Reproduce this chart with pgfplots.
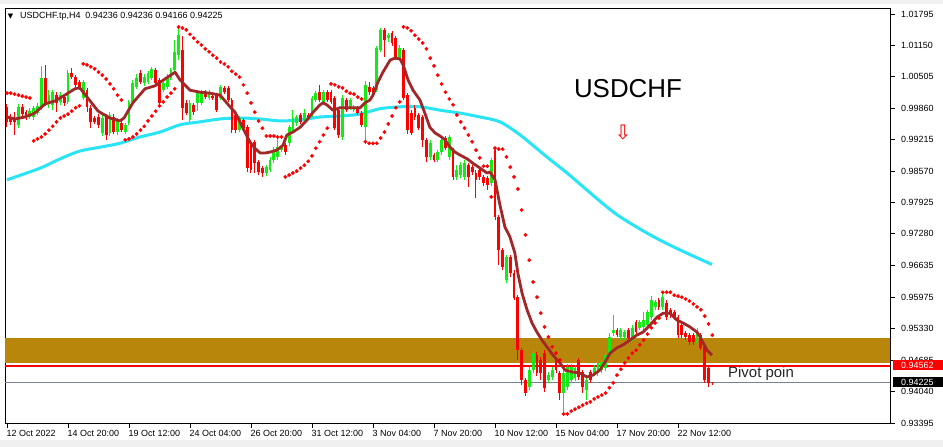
\documentclass[border=0pt]{standalone}
\usepackage{fontspec}
\setmainfont{Liberation Sans}
\newfontfamily\dejavu{DejaVu Sans}
\usepackage{pgfplots}
\usepackage{pgfplotstable}
\pgfplotsset{compat=1.18}
\definecolor{cgreen}{RGB}{20,235,20}
\definecolor{cred}{RGB}{255,0,0}
\definecolor{cbrown}{RGB}{160,40,40}
\definecolor{ccyan}{RGB}{40,228,245}
\definecolor{cgold}{RGB}{184,134,11}
\definecolor{cgrey}{RGB}{120,130,145}
\definecolor{cstrip}{RGB}{240,240,240}

% up candles: bar index, open, high, low, close
\pgfplotstableread{
x o h l c
3 .9952 .9995 .9945 .9989
6 .9968 .9987 .9964 .9980
7 .9968 .9991 .9962 .9987
8 .9976 .9997 .9972 .9991
9 .9987 1.0073 .9982 1.0048
11 .9997 1.0023 .9987 1.0013
12 .9993 1.0023 .9982 1.0019
14 .9999 1.0019 .9993 1.0013
16 .9999 1.0065 .9995 1.0058
20 1.0007 1.0044 1.0003 1.0040
25 .9935 .9972 .9929 .9966
27 .9935 .9978 .9929 .9972
29 .9937 .9966 .9931 .9962
31 .9937 .9956 .9933 .9952
32 .9956 1.0003 .9952 .9999
33 .9999 1.0044 .9995 1.0038
34 1.0030 1.0056 1.0026 1.0048
36 1.0038 1.0056 1.0032 1.0050
37 1.0040 1.0062 1.0036 1.0058
38 1.0048 1.0071 1.0044 1.0067
41 1.0023 1.0044 1.0019 1.0038
42 1.0030 1.0056 1.0026 1.0050
43 1.0048 1.0069 1.0044 1.0065
44 1.0065 1.0126 1.0060 1.0102
45 1.0095 1.0151 1.0085 1.0136
48 .9962 1.0003 .9958 .9997
50 .9997 1.0023 .9980 1.0017
51 .9997 1.0023 .9993 1.0019
53 1.0007 1.0023 1.0003 1.0019
56 1.0007 1.0034 1.0003 1.0030
61 .9941 .9970 .9937 .9966
68 .9853 .9869 .9847 .9865
69 .9859 .9886 .9855 .9880
70 .9880 .9906 .9873 .9896
71 .9886 .9925 .9880 .9906
72 .9900 .9910 .9896 .9906
74 .9914 .9952 .9908 .9947
75 .9941 .9982 .9937 .9966
76 .9956 .9972 .9949 .9968
78 .9962 .9985 .9958 .9976
80 .9972 1.0011 .9968 1.0007
81 1.0003 1.0021 .9999 1.0017
83 .9999 1.0023 .9995 1.0019
88 .9927 1.0013 .9921 1.0007
90 .9987 1.0007 .9982 1.0003
91 .9982 .9993 .9978 .9989
94 .9947 1.0042 .9914 1.0034
97 1.0023 1.0114 1.0019 1.0110
98 1.0106 1.0151 1.0102 1.0147
100 1.0130 1.0141 1.0122 1.0136
103 1.0089 1.0116 1.0085 1.0110
111 .9886 .9921 .9880 .9914
113 .9880 .9900 .9875 .9896
114 .9896 .9927 .9890 .9921
116 .9886 .9931 .9880 .9927
118 .9845 .9869 .9839 .9859
119 .9849 .9875 .9843 .9869
120 .9845 .9880 .9839 .9873
127 .9832 .9884 .9826 .9880
131 .9633 .9685 .9627 .9680
137 .9414 .9455 .9407 .9448
138 .9448 .9489 .9442 .9483
142 .9428 .9444 .9422 .9438
143 .9434 .9455 .9428 .9448
146 .9401 .9448 .9360 .9442
147 .9414 .9461 .9407 .9455
148 .9428 .9461 .9422 .9455
149 .9432 .9459 .9426 .9453
152 .9407 .9432 .9387 .9428
154 .9442 .9459 .9436 .9453
155 .9442 .9469 .9436 .9463
156 .9448 .9469 .9442 .9465
157 .9453 .9483 .9446 .9479
158 .9477 .9524 .9473 .9516
159 .9524 .9561 .9518 .9530
161 .9516 .9535 .9510 .9530
162 .9516 .9530 .9510 .9526
164 .9514 .9541 .9508 .9535
166 .9535 .9551 .9530 .9547
167 .9537 .9567 .9530 .9551
168 .9541 .9572 .9535 .9567
169 .9557 .9600 .9551 .9592
170 .9578 .9592 .9572 .9588
172 .9578 .9604 .9572 .9598
181 .9504 .9535 .9498 .9530
}\uptab

% down candles: bar index, open, high, low, close
\pgfplotstableread{
x o h l c
0 .9989 .9995 .9947 .9958
1 .9968 .9974 .9952 .9958
2 .9966 .9978 .9931 .9958
4 .9989 .9995 .9970 .9974
5 .9978 .9982 .9962 .9966
10 1.0048 1.0075 .9991 .9997
13 1.0013 1.0019 .9978 .9997
15 1.0009 1.0013 .9991 .9997
17 1.0058 1.0069 1.0046 1.0050
18 1.0050 1.0054 1.0030 1.0034
19 1.0040 1.0044 1.0023 1.0030
21 1.0023 1.0028 .9978 .9989
22 .9987 .9993 .9945 .9958
23 .9966 .9970 .9954 .9958
24 .9968 .9974 .9945 .9952
26 .9968 .9974 .9921 .9931
28 .9968 .9974 .9933 .9937
30 .9956 .9960 .9937 .9941
35 1.0058 1.0065 1.0036 1.0040
39 1.0065 1.0069 1.0032 1.0038
40 1.0044 1.0048 .9993 .9997
46 1.0106 1.0134 .9962 .9987
47 .9997 1.0003 .9972 .9976
49 .9993 .9997 .9972 .9978
52 1.0019 1.0023 1.0005 1.0009
54 1.0011 1.0015 1.0003 1.0007
55 1.0013 1.0017 .9978 .9982
57 1.0028 1.0032 1.0015 1.0019
58 1.0028 1.0032 .9999 1.0003
59 1.0003 1.0007 .9935 .9941
60 .9972 .9976 .9935 .9941
62 .9962 .9966 .9941 .9945
63 .9947 .9952 .9855 .9863
64 .9917 .9921 .9853 .9859
65 .9917 .9921 .9853 .9873
66 .9875 .9880 .9849 .9855
67 .9863 .9867 .9845 .9853
73 .9910 .9914 .9890 .9896
77 .9972 .9976 .9954 .9958
79 .9972 .9976 .9962 .9966
82 1.0019 1.0034 .9999 1.0003
84 1.0019 1.0023 .9999 1.0003
85 1.0019 1.0023 .9995 .9999
86 1.0007 1.0011 .9941 .9945
87 .9982 .9987 .9925 .9931
89 1.0003 1.0007 .9978 .9982
92 .9987 .9991 .9972 .9976
93 .9976 .9980 .9947 .9952
95 1.0030 1.0040 1.0013 1.0019
96 1.0028 1.0032 1.0011 1.0017
99 1.0147 1.0151 1.0091 1.0126
101 1.0141 1.0145 1.0114 1.0120
102 1.0130 1.0134 1.0085 1.0091
104 1.0106 1.0110 1.0003 1.0007
105 1.0013 1.0017 .9933 .9941
106 .9976 .9982 .9931 .9935
107 .9987 .9993 .9962 .9968
108 .9972 .9976 .9941 .9945
109 .9968 .9972 .9906 .9921
110 .9921 .9925 .9875 .9886
112 .9890 .9894 .9875 .9880
115 .9925 .9929 .9900 .9904
117 .9900 .9904 .9839 .9845
121 .9869 .9873 .9824 .9845
122 .9865 .9869 .9849 .9855
123 .9853 .9859 .9802 .9839
124 .9859 .9865 .9839 .9845
125 .9845 .9849 .9826 .9832
126 .9843 .9847 .9818 .9828
128 .9900 .9904 .9756 .9763
129 .9763 .9767 .9664 .9695
130 .9695 .9699 .9654 .9660
132 .9680 .9685 .9639 .9647
133 .9647 .9654 .9592 .9596
134 .9598 .9602 .9469 .9489
135 .9489 .9494 .9418 .9428
136 .9428 .9432 .9395 .9401
139 .9479 .9485 .9436 .9442
140 .9469 .9475 .9428 .9442
141 .9483 .9489 .9403 .9412
144 .9469 .9473 .9442 .9448
145 .9442 .9446 .9387 .9401
150 .9469 .9473 .9428 .9434
151 .9444 .9448 .9401 .9414
153 .9444 .9448 .9422 .9428
160 .9530 .9535 .9516 .9520
163 .9530 .9535 .9506 .9514
165 .9547 .9551 .9520 .9526
171 .9592 .9596 .9572 .9578
173 .9586 .9592 .9551 .9557
174 .9572 .9576 .9555 .9561
175 .9567 .9572 .9551 .9557
176 .9557 .9561 .9514 .9520
177 .9541 .9545 .9514 .9520
178 .9524 .9528 .9510 .9516
179 .9520 .9524 .9500 .9506
180 .9520 .9524 .9500 .9506
182 .9520 .9524 .9489 .9494
183 .9496 .9500 .9422 .9428
184 .9453 .9457 .9414 .9422
185 .94236 .94236 .94166 .94225
}\downtab

% Parabolic SAR
\pgfplotstableread{
x s
0 1.0017
1 1.0017
2 1.0015
3 1.0013
4 1.0011
5 1.0009
6 1.0007
7 .9919
8 .9923
9 .9927
10 .9933
11 .9941
12 .9949
13 .9958
14 .9966
15 .9970
16 .9974
17 .9980
18 .9987
19 .9991
20 1.0077
21 1.0075
22 1.0071
23 1.0067
24 1.0060
25 1.0054
26 1.0046
27 1.0036
28 1.0026
29 1.0013
30 1.0003
31 .9921
32 .9923
33 .9927
34 .9933
35 .9941
36 .9949
37 .9960
38 .9970
39 .9980
40 .9991
41 .9999
42 1.0009
43 1.0017
44 1.0026
45 1.0153
46 1.0151
47 1.0147
48 1.0138
49 1.0130
50 1.0122
51 1.0116
52 1.0108
53 1.0102
54 1.0095
55 1.0089
56 1.0081
57 1.0077
58 1.0071
59 1.0062
60 1.0056
61 1.0050
62 1.0034
63 1.0017
64 .9997
65 .9978
66 .9960
67 .9945
68 .9929
69 .9929
70 .9929
71 .9927
72 .9927
73 .9845
74 .9849
75 .9853
76 .9857
77 .9863
78 .9869
79 .9877
80 .9888
81 .9904
82 .9917
83 .9931
84 .9945
85 1.0036
86 1.0034
87 1.0030
88 1.0028
89 1.0021
90 1.0017
91 1.0015
92 1.0009
93 1.0005
94 .9917
95 .9914
96 .9914
97 .9914
98 .9925
99 .9937
100 .9954
101 .9970
102 .9987
103 .9999
104 1.0153
105 1.0151
106 1.0145
107 1.0136
108 1.0128
109 1.0120
110 1.0108
111 1.0089
112 1.0073
113 1.0054
114 1.0036
115 1.0019
116 1.0005
117 .9993
118 .9972
119 .9958
120 .9945
121 .9931
122 .9917
123 .9900
124 .9884
125 .9867
126 .9867
127 .9804
128 .9904
129 .9902
130 .9902
131 .9886
132 .9865
133 .9845
134 .9820
135 .9777
136 .9726
137 .9674
138 .9629
139 .9598
140 .9565
141 .9537
142 .9516
143 .9496
144 .9483
145 .9469
146 .9358
147 .9358
148 .9364
149 .9368
150 .9372
151 .9376
152 .9380
153 .9383
154 .9389
155 .9393
156 .9397
157 .9401
158 .9412
159 .9422
160 .9438
161 .9450
162 .9463
163 .9473
164 .9483
165 .9489
166 .9500
167 .9510
168 .9522
169 .9535
170 .9545
171 .9555
172 .9608
173 .9608
174 .9608
175 .9602
176 .9600
177 .9598
178 .9594
179 .9590
180 .9584
181 .9578
182 .9572
183 .9559
184 .9543
185 .9520
}\sartab

\begin{document}
\begin{tikzpicture}
\path[use as bounding box] (-5bp,-24bp) rectangle (938bp,423bp);
\fill[cstrip] (-5bp,419bp) rectangle (938bp,423bp);
\fill[cstrip] (-5bp,-24bp) rectangle (938bp,-17bp);
\begin{axis}[
  at={(0,0)}, anchor=south west,
  scale only axis, width=885bp, height=415bp,
  xmin=-0.52, xmax=231.6, ymin=0.93395, ymax=1.01919,
  axis line style={black, line width=0.8bp},
  xtick={0,16,32,48,64,80,96,112,128,144,160,176},
  xticklabels={12 Oct 2022, 14 Oct 20:00, 19 Oct 12:00, 24 Oct 04:00, 26 Oct 20:00, 31 Oct 12:00, 3 Nov 04:00, 7 Nov 20:00, 10 Nov 12:00, 15 Nov 04:00, 17 Nov 20:00, 22 Nov 12:00},
  ytick={0.93395,0.94040,0.94685,0.95330,0.95975,0.96635,0.97280,0.97925,0.98570,0.99215,0.99860,1.00505,1.01150,1.01795},
  yticklabels={0.93395,0.94040,0.94685,0.95330,0.95975,0.96635,0.97280,0.97925,0.98570,0.99215,0.99860,1.00505,1.01150,1.01795},
  xtick pos=bottom, ytick pos=right, yticklabel pos=right,
  tick align=outside, major tick length=4.5bp,
  tick style={black, line width=0.8bp},
  /pgf/number format/assume math mode=true,
  ticklabel style={font=\fontsize{9}{10}\selectfont, text=black},
  yticklabel style={anchor=west, inner sep=0pt, xshift=6.5bp},
  xticklabel style={anchor=north west, inner sep=0pt, xshift=-0.5bp, yshift=-3bp},
]
% resistance band, pivot line, last price line
\addplot[draw=none, fill=cgold, forget plot] coordinates {(-1,0.9463) (233,0.9463) (233,0.9514) (-1,0.9514)} -- cycle;
\addplot[cred, line width=1.6bp, forget plot] coordinates {(-1,0.94562) (233,0.94562)};
\addplot[cgrey, line width=0.8bp, forget plot] coordinates {(-1,0.94225) (233,0.94225)};
% slow moving average
\addplot[ccyan, line width=3bp, line join=round, smooth, tension=0.5, forget plot] coordinates {
(0,.9839) (8.7,.9863) (13.9,.9882) (19.1,.9898) (24.4,.9906) (29.6,.9914) (34.9,.9927) (40.1,.9937) (45.4,.9952) (50.6,.9958) (55.9,.9964) (61.1,.9966) (66.4,.9964) (71.6,.9960) (76.9,.9962) (82.1,.9968) (87.3,.9970) (92.6,.9974) (97.8,.9985) (103.1,.9989) (108.3,.9989) (113.6,.9982) (118.8,.9976) (124.1,.9968) (129.3,.9958) (134.6,.9931) (141.6,.9886) (146.9,.9853) (152.1,.9818) (157.4,.9783) (160.8,.9763) (166,.9738) (171.3,.9715) (176.5,.9695) (181.8,.9676) (184.9,.9665)};
% wicks
\addplot[draw=none, mark=none, forget plot, error bars/.cd, y dir=plus, y explicit, error mark=none, error bar style={draw=cgreen, line width=1bp}] table[x=x, y=l, y error expr=\thisrow{h}-\thisrow{l}] {\uptab};
\addplot[draw=none, mark=none, forget plot, error bars/.cd, y dir=plus, y explicit, error mark=none, error bar style={draw=cred, line width=1bp}] table[x=x, y=l, y error expr=\thisrow{h}-\thisrow{l}] {\downtab};
% bodies
\addplot[draw=none, mark=none, forget plot, error bars/.cd, y dir=plus, y explicit, error mark=none, error bar style={draw=cgreen, line width=2.8bp}] table[x=x, y=o, y error expr=\thisrow{c}-\thisrow{o}] {\uptab};
\addplot[draw=none, mark=none, forget plot, error bars/.cd, y dir=plus, y explicit, error mark=none, error bar style={draw=cred, line width=2.8bp}] table[x=x, y=c, y error expr=\thisrow{o}-\thisrow{c}] {\downtab};
% fast moving average
\addplot[cbrown, line width=2.8bp, line join=round, forget plot] coordinates {
(0,.9968) (2.1,.9964) (4.7,.9968) (7.3,.9976) (10,.9995) (12.6,1.0001) (15.2,1.0013) (17.8,1.0026) (19.1,1.0028) (21,1.0009) (23.9,.9980) (27,.9966) (29.6,.9960) (30.7,.9966) (33,.9997) (36.2,1.0026) (38.8,1.0032) (41.4,1.0046) (44.1,1.0060) (45.4,1.0044) (48,1.0023) (50.6,1.0019) (53.2,1.0017) (55.9,1.0013) (58.5,.9989) (59.8,.9978) (61.1,.9958) (62.4,.9937) (63.7,.9917) (65,.9904) (66.4,.9894) (67.7,.9894) (69,.9896) (70.8,.9900) (72.4,.9910) (73.4,.9931) (75,.9937) (76.9,.9947) (78.7,.9962) (80.3,.9978) (82.1,.9993) (82.9,.9997) (83.9,.9993) (85.5,.9982) (87.3,.9987) (90.8,.9987) (92.6,.9987) (93.9,.9997) (95.2,1.0003) (96,1.0013) (97.3,1.0040) (98.6,1.0060) (100.5,1.0085) (101.8,1.0089) (103.1,1.0087) (103.9,1.0075) (105.2,1.0044) (106.5,1.0023) (108.3,1.0003) (109.6,.9976) (110.9,.9947) (112.3,.9935) (113.6,.9929) (114.9,.9921) (116.2,.9906) (117.5,.9896) (118.8,.9890) (120.7,.9882) (122.2,.9873) (124.1,.9863) (125.9,.9853) (126.7,.9855) (128,.9839) (129.3,.9787) (130.6,.9742) (131.9,.9722) (133.2,.9689) (134,.9647) (135.1,.9606) (136.4,.9572) (137.7,.9545) (139,.9526) (140.3,.9510) (141.6,.9496) (143.2,.9479) (145,.9463) (146.4,.9448) (148.5,.9444) (150.3,.9442) (152.1,.9434) (153.7,.9438) (155.5,.9448) (156.9,.9465) (158.2,.9483) (160,.9494) (161.6,.9500) (163.4,.9510) (165.2,.9520) (166.8,.9526) (168.7,.9541) (170.5,.9557) (172.1,.9565) (173.9,.9565) (175.7,.9551) (177.3,.9545) (179.1,.9537) (181,.9526) (181.8,.9516) (182.6,.9504) (183.6,.9489) (184.9,.9479)};
% parabolic SAR
\addplot[only marks, mark=*, mark size=1.7bp, mark options={fill=cred, draw=cred}, forget plot] table[x=x, y=s] {\sartab};
\end{axis}
% text annotations
\node[inner sep=0pt, font=\dejavu\fontsize{7}{7}\selectfont] at (5.5bp,406.5bp) {▼};
\node[anchor=west, inner sep=0pt, font=\fontsize{9}{10}\selectfont] at (15bp,406.5bp) {USDCHF.tp,H4\ \ 0.94236 0.94236 0.94166 0.94225};
\node[inner sep=0pt, font=\fontsize{26}{30}\selectfont] at (623bp,334bp) {USDCHF};
\node[inner sep=0pt, text=cred, font=\dejavu\fontsize{20}{22}\selectfont] at (618bp,291bp) {⇩};
\node[anchor=west, inner sep=0pt, font=\fontsize{15}{17}\selectfont, text=black!85] at (723bp,49bp) {Pivot poin};
% price labels on the scale
\fill[cred] (888bp,52.5bp) rectangle (938bp,62.5bp);
\node[anchor=west, inner sep=0pt, text=white, font=\fontsize{9}{10}\selectfont] at (896bp,57.5bp) {0.94562};
\fill[black] (888bp,36bp) rectangle (938bp,46bp);
\node[anchor=west, inner sep=0pt, text=white, font=\fontsize{9}{10}\selectfont] at (896bp,41bp) {0.94225};
\end{tikzpicture}
\end{document}
